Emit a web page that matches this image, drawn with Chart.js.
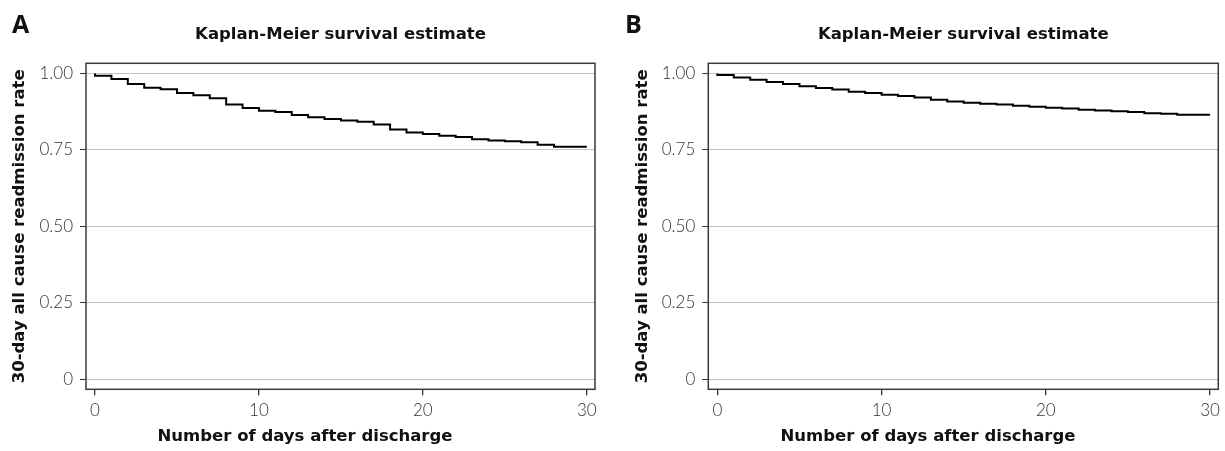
<!DOCTYPE html>
<html>
<head>
<meta charset="utf-8">
<script src="https://cdn.jsdelivr.net/npm/chart.js@4/dist/chart.umd.min.js"></script>
<style>
  html, body { margin: 0; padding: 0; background: #fff; }
  #wrap { position: relative; width: 1225px; height: 451px; overflow: hidden; }
  canvas { position: absolute; top: 0; }
  #panelA { left: 0; }
  #panelB { left: 623px; }
</style>
</head>
<body>
<div id="wrap">
  <canvas id="panelA" width="623" height="451"></canvas>
  <canvas id="panelB" width="602" height="451"></canvas>
</div>
<script>
"use strict";

/*global Chart*/

// days after discharge (step starts), last point closes the final step
var days = [0, 1, 2, 3, 4, 5, 6, 7, 8, 9, 10, 11, 12, 13, 14, 15,
    16, 17, 18, 19, 20, 21, 22, 23, 24, 25, 26, 27, 28, 29, 30];

var survivalA = [1.000, 0.992, 0.982, 0.965, 0.953, 0.948, 0.936, 0.929, 0.919, 0.898,
    0.887, 0.878, 0.874, 0.864, 0.857, 0.851, 0.846, 0.842, 0.833, 0.817,
    0.807, 0.802, 0.796, 0.792, 0.785, 0.781, 0.778, 0.775, 0.767, 0.760, 0.760];

var survivalB = [1.000, 0.995, 0.987, 0.979, 0.972, 0.965, 0.958, 0.952, 0.947, 0.940,
    0.936, 0.930, 0.926, 0.921, 0.914, 0.908, 0.904, 0.901, 0.898, 0.894,
    0.891, 0.888, 0.885, 0.881, 0.879, 0.876, 0.874, 0.870, 0.868, 0.865, 0.865];

var xTicks = [0, 10, 20, 30];
var yTicks = [0, 0.25, 0.5, 0.75, 1];

var plotTitle = 'Kaplan-Meier survival estimate',
    xTitle = 'Number of days after discharge',
    yTitle = '30-day all cause readmission rate';

var boldFont = '"DejaVu Sans", sans-serif',
    lightFont = 'Lato, "Open Sans", sans-serif';

// frame, titles and panel letter
var decor = {
    id: 'decor',
    afterDraw: function (chart, args, opts) {
        var ctx = chart.ctx,
            a = chart.chartArea;
        ctx.save();
        ctx.strokeStyle = '#3a3a3a';
        ctx.lineWidth = 1.5;
        ctx.strokeRect(a.left, a.top, a.right - a.left, a.bottom - a.top);

        ctx.fillStyle = '#111';
        ctx.textAlign = 'center';
        ctx.textBaseline = 'middle';
        ctx.font = 'bold 16.5px ' + boldFont;
        ctx.fillText(plotTitle, (a.left + a.right) / 2, 35);
        ctx.fillText(xTitle, opts.xTitleX, 437);

        ctx.textAlign = 'left';
        ctx.textBaseline = 'alphabetic';
        ctx.font = 'bold 25px "Open Sans", sans-serif';
        ctx.fillText(opts.letter, opts.letterX, 33);
        ctx.restore();
    }
};

var panel = function (options) {
    var ctx = document.getElementById(options.id).getContext('2d');
    return new Chart(ctx, {
        type: 'line',
        data: {
            datasets: [{
                data: days.map(function (d, i) {
                    return {x: d, y: options.values[i]};
                }),
                stepped: 'after',
                borderColor: '#000',
                borderWidth: 2,
                pointRadius: 0,
                fill: false,
            }],
        },
        options: {
            responsive: false,
            animation: false,
            layout: {padding: {top: 63.3, right: options.padRight, bottom: 0, left: 0}},
            plugins: {
                legend: {display: false},
                tooltip: {enabled: false},
                decor: {letter: options.letter, letterX: options.letterX, xTitleX: options.xTitleX},
            },
            scales: {
                x: {
                    type: 'linear',
                    min: -0.55,
                    max: 30.5,
                    afterBuildTicks: function (s) {
                        s.ticks = xTicks.map(function (v) { return {value: v}; });
                    },
                    afterFit: function (s) { s.height = 451 - 389.3; },
                    border: {display: false},
                    grid: {drawOnChartArea: false, tickLength: 6, tickColor: '#333', lineWidth: 1.3},
                    ticks: {
                        padding: 5,
                        color: '#333',
                        maxRotation: 0,
                        font: {family: lightFont, weight: 300, size: 17},
                    },
                },
                y: {
                    type: 'linear',
                    min: -0.032,
                    max: 1.033,
                    afterBuildTicks: function (s) {
                        s.ticks = yTicks.map(function (v) { return {value: v}; });
                    },
                    afterFit: function (s) { s.width = options.areaLeft; },
                    border: {display: false},
                    grid: {color: '#c4c4c4', lineWidth: 1, tickLength: 6, tickColor: '#333'},
                    ticks: {
                        padding: 7,
                        color: '#333',
                        font: {family: lightFont, weight: 300, size: 17},
                        callback: function (v) { return v === 0 ? '0' : v.toFixed(2); },
                    },
                    title: {
                        display: true,
                        text: yTitle,
                        color: '#111',
                        padding: {top: 10, bottom: 0},
                        font: {family: boldFont, weight: 'bold', size: 16.5},
                    },
                },
            },
        },
        plugins: [decor],
    });
};

panel({id: 'panelA', letter: 'A', letterX: 12, xTitleX: 305, values: survivalA, areaLeft: 86, padRight: 28});
panel({id: 'panelB', letter: 'B', letterX: 2, xTitleX: 305, values: survivalB, areaLeft: 85.3, padRight: 4.7});
</script>
</body>
</html>
